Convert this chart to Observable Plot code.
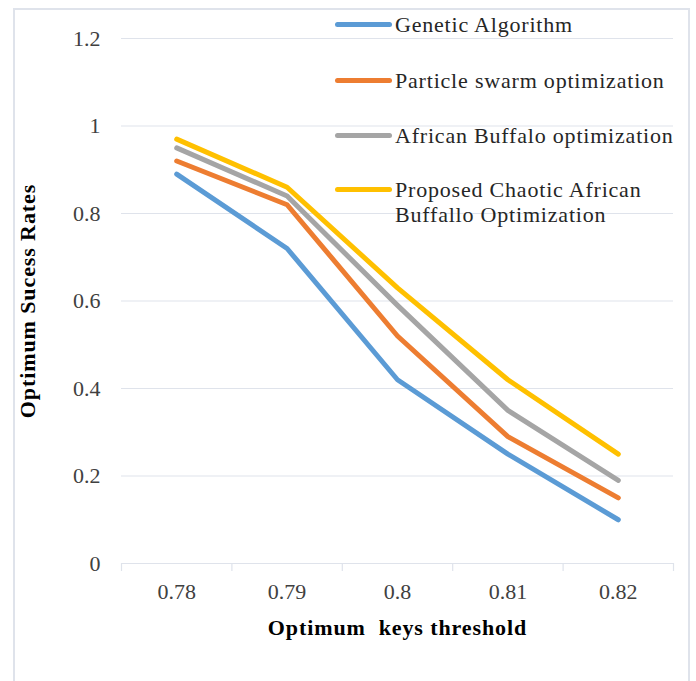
<!DOCTYPE html>
<html><head><meta charset="utf-8">
<script src="https://cdn.jsdelivr.net/npm/d3@7"></script>
<script src="https://cdn.jsdelivr.net/npm/@observablehq/plot@0.6"></script>
<style>
body{margin:0;background:#fff;}
#wrap{position:relative;width:696px;height:681px;overflow:hidden;background:#fff;}
#border{position:absolute;left:13px;top:8px;width:677px;height:700px;border:2px solid #dfe3eb;box-sizing:border-box;}
#chart{position:absolute;left:0;top:0;}
.lg{position:absolute;left:335px;font-family:"Liberation Serif",serif;font-size:22px;letter-spacing:0.8px;color:#262626;line-height:25px;white-space:nowrap;}
.sw{position:absolute;left:0;width:57px;height:5px;border-radius:3px;}
.lt{position:absolute;left:60px;top:0;}
</style></head><body>
<div id="wrap"><div id="border"></div><div id="chart"></div><div id="legend"></div></div>
<script>
const thresholds = [0.78, 0.79, 0.8, 0.81, 0.82];
const tickLabels = ["0.78", "0.79", "0.8", "0.81", "0.82"];
const yTicks = [0, 0.2, 0.4, 0.6, 0.8, 1, 1.2];
const seriesNames = ["Genetic Algorithm", "Particle swarm optimization", "African Buffalo optimization", "Proposed Chaotic African Buffallo Optimization"];
const seriesColors = ["#5B9BD5", "#ED7D31", "#A5A5A5", "#FFC000"];
const gaValues = [0.89, 0.72, 0.42, 0.25, 0.10];
const psoValues = [0.92, 0.82, 0.52, 0.29, 0.15];
const aboValues = [0.95, 0.84, 0.59, 0.35, 0.19];
const caboValues = [0.97, 0.86, 0.63, 0.42, 0.25];
const xTitle = "Optimum  keys threshold";
const yTitle = "Optimum Sucess Rates";

const allValues = [gaValues, psoValues, aboValues, caboValues];
const rows = [];
allValues.forEach((vals, s) => vals.forEach((v, i) => rows.push({series: seriesNames[s], x: thresholds[i], y: v})));
const step = thresholds[1] - thresholds[0];
const bounds = [...thresholds.map(t => t - step / 2), thresholds[thresholds.length - 1] + step / 2];

const chart = Plot.plot({
  width: 696, height: 681,
  marginLeft: 121, marginRight: 23, marginTop: 38, marginBottom: 118,
  style: {fontFamily: "'Liberation Serif', serif", fontSize: "22px", background: "transparent", overflow: "visible"},
  x: {type: "linear", domain: [bounds[0], bounds[bounds.length - 1]]},
  y: {type: "linear", domain: [0, 1.2]},
  color: {domain: seriesNames, range: seriesColors},
  marks: [
    Plot.ruleY(yTicks, {y: d => d, stroke: "#dfe3eb", strokeWidth: 1.2, strokeOpacity: 1}),
    Plot.axisX({ticks: bounds, tickSize: 8, tickFormat: () => "", stroke: "#dfe3eb", strokeWidth: 1.2, strokeOpacity: 1, label: null}),
    Plot.axisY({ticks: yTicks, tickSize: 0, tickPadding: 21, tickFormat: d => String(d), fill: "#404040", label: null}),
    Plot.axisX({ticks: thresholds, tickSize: 0, tickPadding: 20, tickFormat: (d, i) => tickLabels[i], fill: "#404040", label: null}),
    Plot.line(rows, {x: "x", y: "y", z: "series", stroke: "series", strokeWidth: 5, strokeLinecap: "round", strokeLinejoin: "round"}),
    Plot.text([xTitle], {frameAnchor: "bottom", textAnchor: "middle", dy: 71, text: d => d, fontWeight: "bold", fill: "#000", fontSize: 22}),
    Plot.text([yTitle], {frameAnchor: "left", textAnchor: "middle", rotate: -90, dx: -94, text: d => d, fontWeight: "bold", fill: "#000", fontSize: 22})
  ]
});
chart.querySelectorAll("text").forEach(t => { t.style.whiteSpace = "pre"; });
chart.querySelectorAll("g[aria-label='text'] text").forEach(t => { t.style.letterSpacing = "0.9px"; });
document.getElementById("chart").appendChild(chart);

const legendTops = [12, 68, 123, 177];
const legend = document.getElementById("legend");
seriesNames.forEach((name, i) => {
  const row = document.createElement("div");
  row.className = "lg";
  row.style.top = legendTops[i] + "px";
  const sw = document.createElement("span");
  sw.className = "sw";
  sw.style.background = seriesColors[i];
  sw.style.top = "10px";
  const lt = document.createElement("span");
  lt.className = "lt";
  if (i === 3) { lt.innerHTML = "Proposed Chaotic African<br>Buffallo Optimization"; }
  else lt.textContent = name;
  row.appendChild(sw); row.appendChild(lt);
  legend.appendChild(row);
});
</script>
</body></html>
